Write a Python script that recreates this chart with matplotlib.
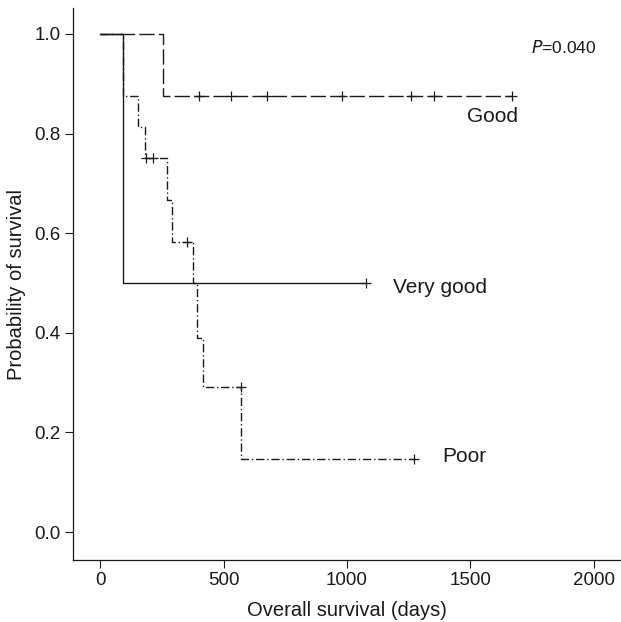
import matplotlib
matplotlib.use("Agg")
import matplotlib.pyplot as plt

plt.rcParams["font.family"] = ["Liberation Sans", "DejaVu Sans"]
plt.rcParams["lines.scale_dashes"] = False

# Kaplan-Meier step data (days, survival probability)
good_t = [0, 255, 1668]
good_s = [1.0, 0.875, 0.875]
good_cens_t = [401, 530, 676, 980, 1259, 1352, 1668]
good_cens_s = [0.875, 0.875, 0.875, 0.875, 0.875, 0.875, 0.875]

vgood_t = [0, 92, 1077]
vgood_s = [1.0, 0.5, 0.5]
vgood_cens_t = [1077]
vgood_cens_s = [0.5]

poor_t = [0, 92, 155, 182, 272, 291, 376, 393, 417, 571, 1271]
poor_s = [1.0, 0.875, 0.8125, 0.75, 0.667, 0.583, 0.5, 0.389, 0.292, 0.146, 0.146]
poor_cens_t = [186, 214, 352, 571, 1271]
poor_cens_s = [0.75, 0.75, 0.583, 0.292, 0.146]

xticks = [0, 500, 1000, 1500, 2000]
yticks = [0.0, 0.2, 0.4, 0.6, 0.8, 1.0]

col = "#1a1a1a"

fig = plt.figure(figsize=(6.21, 6.22), dpi=100)
ax = fig.add_axes([0.1176, 0.0997, 0.8824, 0.8874])

ax.step(vgood_t, vgood_s, where="post", color=col, lw=1.0, linestyle="-")
ax.step(good_t, good_s, where="post", color=col, lw=1.0, linestyle=(0, (11, 3)))
ax.step(poor_t, poor_s, where="post", color=col, lw=1.0, linestyle=(0, (6, 2, 1, 2)))

ax.plot(vgood_cens_t, vgood_cens_s, "+", color=col, ms=7, mew=0.9)
ax.plot(good_cens_t, good_cens_s, "+", color=col, ms=7, mew=0.9)
ax.plot(poor_cens_t, poor_cens_s, "+", color=col, ms=7, mew=0.9)

ax.text(1485, 0.835, "Good", fontsize=15, color=col, va="center")
ax.text(1745, 0.972, "$\\it{P}$=0.040", fontsize=12.5, color=col, va="center")
ax.text(1186, 0.49, "Very good", fontsize=15, color=col, va="center")
ax.text(1385, 0.152, "Poor", fontsize=15, color=col, va="center")

ax.set_xlim(-110, 2110)
ax.set_ylim(-0.056, 1.052)
ax.set_xticks(xticks)
ax.set_yticks(yticks)
ax.set_yticklabels([f"{v:.1f}" for v in yticks])
ax.tick_params(direction="out", length=6, width=0.8, labelsize=13.5, colors=col, pad=3)

ax.spines["top"].set_visible(False)
ax.spines["right"].set_visible(False)
for s in ["left", "bottom"]:
    ax.spines[s].set_color(col)
    ax.spines[s].set_linewidth(0.9)

ax.set_xlabel("Overall survival (days)", fontsize=14.5, color=col, labelpad=8)
ax.set_ylabel("Probability of survival", fontsize=14.5, color=col, labelpad=6)

fig.savefig("out.png", dpi=100)
